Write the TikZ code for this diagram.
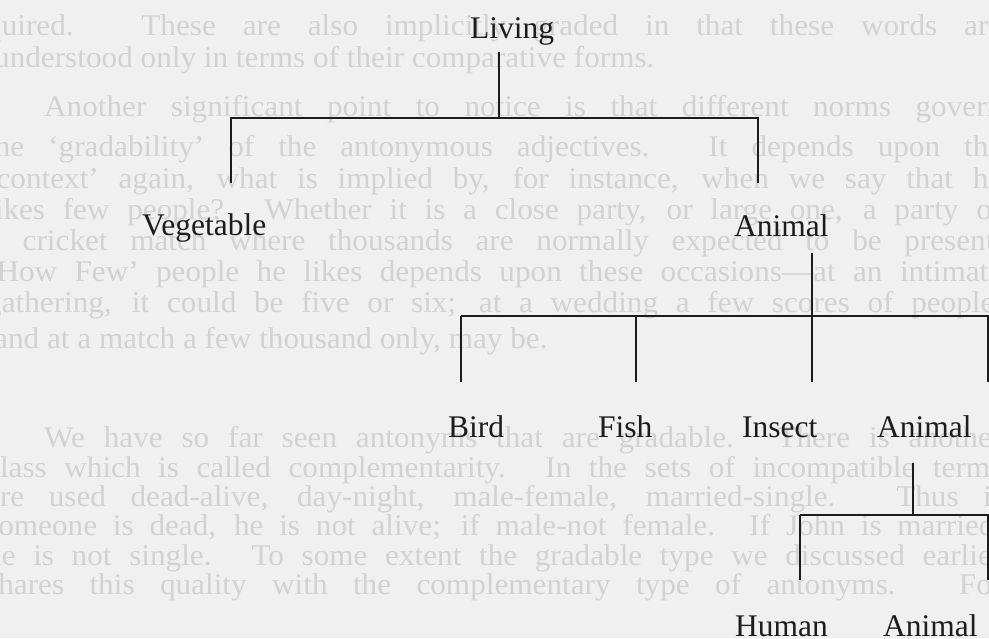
\documentclass[tikz,border=0pt]{standalone}
\usepackage{fontspec}
\setmainfont{Liberation Serif}
\newfontfamily\ghostfont[FakeStretch=1.04,Ligatures=TeX]{Liberation Serif}
\definecolor{paper}{HTML}{F0F0F0}
\definecolor{ghost}{HTML}{D2D2D2}
\definecolor{ink}{HTML}{1C1C1C}
\newcommand\ghostjust[4]{\node[ghostline] (#1) at (#2,#3) {\makebox[\dimexpr 1002pt-#2pt\relax][s]{#4}};}
\newcommand\ghostfree[4]{\node[ghostline] (#1) at (#2,#3) {#4};}
\begin{document}
\begin{tikzpicture}[x=1pt,y=-1pt,
  lbl/.style={font=\fontsize{31.5}{36}\selectfont, text=ink, inner sep=0pt, anchor=base west},
  ghostline/.style={font=\ghostfont\fontsize{30}{34}\selectfont, text=ghost, inner sep=0pt, anchor=base west},
  branch/.style={draw=ink, line width=1.5pt}]
\fill[paper] (0,0) rectangle (989,638);
\useasboundingbox (0,0) rectangle (989,638);

% faint text of the page behind the diagram
\ghostjust{g1}{-14}{35}{quired. These are also implicitly graded in that these words are}
\ghostfree{g2}{-6}{67}{understood only in terms of their comparative forms.}
\ghostjust{g3}{44}{116}{Another significant point to notice is that different norms govern}
\ghostjust{g4}{-14}{156}{the ‘gradability’ of the antonymous adjectives. It depends upon the}
\ghostjust{g5}{-14}{188}{‘context’ again, what is implied by, for instance, when we say that he}
\ghostjust{g6}{-14}{219}{likes few people? Whether it is a close party, or large one, a party or}
\ghostjust{g7}{-14}{250}{a cricket match where thousands are normally expected to be present.}
\ghostjust{g8}{-14}{281}{‘How Few’ people he likes depends upon these occasions—at an intimate}
\ghostjust{g9}{-14}{312}{gathering, it could be five or six; at a wedding a few scores of people,}
\ghostfree{g10}{-6}{348}{and at a match a few thousand only, may be.}
\ghostjust{g11}{44}{447}{We have so far seen antonyms that are gradable. There is another}
\ghostjust{g12}{-14}{477}{class which is called complementarity. In the sets of incompatible terms}
\ghostjust{g13}{-14}{506}{are used dead-alive, day-night, male-female, married-single. Thus if}
\ghostjust{g14}{-14}{535}{someone is dead, he is not alive; if male-not female. If John is married,}
\ghostjust{g15}{-14}{565}{he is not single. To some extent the gradable type we discussed earlier}
\ghostjust{g16}{-14}{594}{shares this quality with the complementary type of antonyms. For}

% tree labels
\node[lbl] (living)  at (470,38)  {Living};
\node[lbl] (veg)     at (142,235) {Vegetable};
\node[lbl] (animalA) at (734,236) {Animal};
\node[lbl] (bird)    at (448,437) {Bird};
\node[lbl] (fish)    at (598,437) {Fish};
\node[lbl] (insect)  at (742,437) {Insect};
\node[lbl] (animalB) at (877,437) {Animal};
\node[lbl] (human)   at (735,636) {Human};
\node[lbl] (animalC) at (883,636) {Animal};

% connector points
\coordinate (livB) at (499,52);
\coordinate (j1)   at (499,118);
\coordinate (j1L)  at (231,118);
\coordinate (j1R)  at (758,118);
\coordinate (vegT) at (231,183);
\coordinate (aniAT) at (758,183);
\coordinate (aniAB) at (812,253);
\coordinate (j2)   at (812,316);
\coordinate (j2L)  at (461,316);
\coordinate (j2F)  at (636,316);
\coordinate (j2R)  at (988,316);
\coordinate (j2E)  at (995,316);
\coordinate (birdT) at (461,382);
\coordinate (fishT) at (636,382);
\coordinate (insT)  at (812,382);
\coordinate (aniBT) at (988,382);
\coordinate (aniBB) at (913,463);
\coordinate (j3)   at (913,515);
\coordinate (j3L)  at (800,515);
\coordinate (j3R)  at (988,515);
\coordinate (j3E)  at (995,515);
\coordinate (humT) at (800,580);
\coordinate (aniCT) at (988,580);

% connectors
\draw[branch] (livB) -- (j1);
\draw[branch] (vegT) -- (j1L) -- (j1R) -- (aniAT);
\draw[branch] (aniAB) -- (j2);
\draw[branch] (j2L) -- (j2E);
\draw[branch] (j2L) -- (birdT);
\draw[branch] (j2F) -- (fishT);
\draw[branch] (j2)  -- (insT);
\draw[branch] (j2R) -- (aniBT);
\draw[branch] (aniBB) -- (j3);
\draw[branch] (j3L) -- (j3E);
\draw[branch] (j3L) -- (humT);
\draw[branch] (j3R) -- (aniCT);
\end{tikzpicture}
\end{document}
